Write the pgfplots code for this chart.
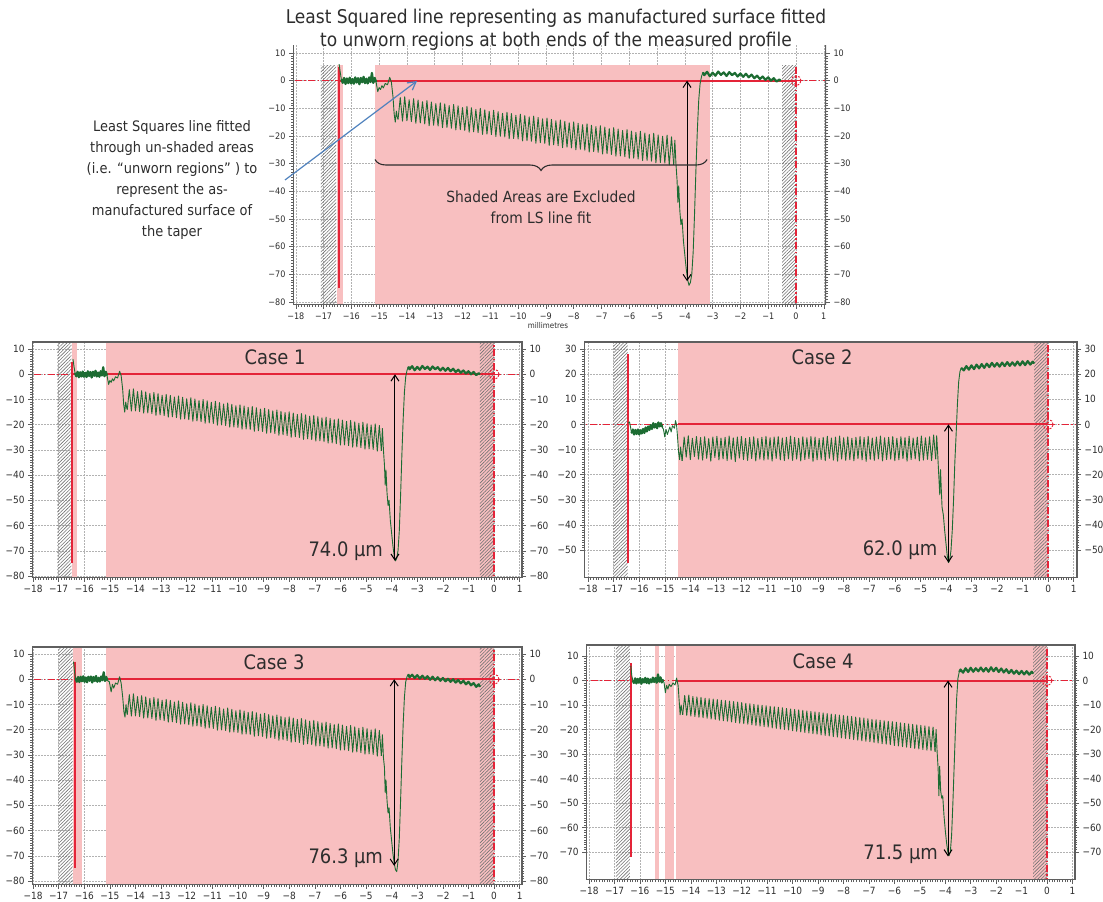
\documentclass[border=0pt]{standalone}
\usepackage{pgfplots}
\pgfplotsset{compat=1.18}
\usepackage{pgfplotstable}
\usepackage{fontspec}
\setmainfont{DejaVu Sans Condensed}
\usetikzlibrary{patterns,patterns.meta,decorations.pathreplacing,arrows.meta}

\definecolor{pinkc}{RGB}{248,191,192}
\definecolor{grn}{RGB}{28,108,50}
\definecolor{redc}{RGB}{228,36,56}
\definecolor{txt}{RGB}{45,45,45}
\definecolor{framec}{RGB}{95,95,95}
\definecolor{bluec}{RGB}{79,129,189}

\newcommand\myticklab{\pgfmathtruncatemacro\myTV{round(\tick)}\ifnum\myTV<0 −\pgfmathtruncatemacro\myTV{-\myTV}\fi\myTV}

\pgfplotsset{
  base/.style={scale only axis, anchor=south west,
    xtick={-18,-17,...,1}, minor x tick num=9, minor y tick num=9,
    xtick pos=left, ytick pos=both,
    tick align=outside, major tick length=4bp, minor tick length=2bp,
    tick style={draw=framec, line width=0.5bp},
    grid=major, grid style={draw=gray!60, line width=0.5bp, dash pattern=on 1.5bp off 1.5bp},
    axis line style={draw=framec, line width=1bp},
    xticklabel={\myticklab}, yticklabel={\myticklab},
    tick label style={text=txt}},
  rlab/.style={scale only axis, anchor=south west, xtick=\empty, ytick pos=right, yticklabel pos=right,
    tick align=outside, major tick length=4bp, ytick style={draw=none}, minor y tick num=0,
    axis line style={draw=none}, yticklabel={\myticklab}, tick label style={text=txt}},
  pinkfill/.style={fill=pinkc, draw=none},
  hatch/.style={draw=none, pattern={Lines[angle=45, distance=2.4bp, line width=0.6bp]}, pattern color=gray!90!black},
  redsolid/.style={color=redc, line width=2bp},
  reddd/.style={color=redc, line width=1.4bp, dash pattern=on 7bp off 2.5bp on 1.5bp off 2.5bp},
  redcirc/.style={only marks, mark=o, mark size=5bp, mark options={draw=redc, line width=1bp, dash pattern=on 2bp off 1.5bp, fill=none}},
  prof/.style={color=grn, line width=0.9bp, line join=round},
  profthick/.style={color=grn, line width=2.2bp, line join=round},
  meas/.style={color=black, line width=1bp, {Straight Barb[length=6bp,width=8bp]}-{Straight Barb[length=6bp,width=8bp]}},
  frameline/.style={color=framec, line width=2bp},
  dummy/.style={draw=none, forget plot},
}

\pgfplotstableread{
x a b d
-14.32 -14.0 -14.5 -14.0
-14.24 -6.1 -5.0 -6.1
-14.16 -14.6 -13.0 -14.2
-14.08 -5.8 -4.5 -5.9
-14.00 -14.5 -14.0 -14.5
-13.92 -6.9 -5.5 -6.5
-13.84 -14.8 -12.8 -14.7
-13.76 -6.5 -4.8 -6.7
-13.68 -15.4 -13.8 -15.0
-13.60 -7.0 -5.2 -6.9
-13.52 -15.3 -14.2 -15.2
-13.44 -7.6 -4.9 -7.2
-13.36 -15.6 -13.5 -15.4
-13.28 -7.2 -5.6 -7.4
-13.20 -16.3 -14.6 -15.7
-13.12 -7.7 -5.0 -7.6
-13.04 -16.1 -13.2 -15.9
-12.96 -8.3 -4.7 -7.8
-12.88 -16.4 -14.1 -16.2
-12.80 -8.0 -5.4 -8.0
-12.72 -17.0 -13.7 -16.4
-12.64 -8.4 -5.1 -8.2
-12.56 -16.9 -14.4 -16.6
-12.48 -9.0 -4.6 -8.4
-12.40 -17.2 -13.9 -16.9
-12.32 -8.6 -5.3 -8.6
-12.24 -17.8 -14.8 -17.1
-12.16 -9.1 -5.0 -8.8
-12.08 -17.7 -13.4 -17.4
-12.00 -9.7 -4.8 -9.0
-11.92 -18.0 -14.0 -17.6
-11.84 -9.3 -5.5 -9.3
-11.76 -18.6 -14.3 -17.8
-11.68 -9.8 -5.2 -9.5
-11.60 -18.5 -13.6 -18.1
-11.52 -10.4 -4.9 -9.7
-11.44 -18.8 -14.5 -18.3
-11.36 -10.0 -5.6 -9.9
-11.28 -19.4 -13.8 -18.6
-11.20 -10.5 -5.1 -10.1
-11.12 -19.3 -14.2 -18.8
-11.04 -11.1 -4.7 -10.3
-10.96 -19.5 -13.9 -19.0
-10.88 -10.7 -5.3 -10.5
-10.80 -20.2 -14.6 -19.3
-10.72 -11.2 -5.0 -10.7
-10.64 -20.1 -13.5 -19.5
-10.56 -11.8 -4.8 -10.9
-10.48 -20.3 -14.1 -19.8
-10.40 -11.4 -5.4 -11.1
-10.32 -21.0 -14.4 -20.0
-10.24 -11.9 -5.1 -11.4
-10.16 -20.9 -13.7 -20.2
-10.08 -12.5 -4.6 -11.6
-10.00 -21.1 -14.3 -20.5
-9.92 -12.1 -5.2 -11.8
-9.84 -21.8 -13.8 -20.7
-9.76 -12.6 -5.5 -12.0
-9.68 -21.7 -14.5 -21.0
-9.60 -13.1 -4.9 -12.2
-9.52 -21.9 -14.0 -21.2
-9.44 -12.8 -5.3 -12.4
-9.36 -22.6 -13.6 -21.4
-9.28 -13.3 -4.8 -12.6
-9.20 -22.4 -14.7 -21.7
-9.12 -13.8 -5.0 -12.8
-9.04 -22.7 -14.1 -21.9
-8.96 -13.5 -5.6 -13.0
-8.88 -23.4 -13.9 -22.2
-8.80 -14.0 -5.1 -13.2
-8.72 -23.2 -14.4 -22.4
-8.64 -14.5 -4.7 -13.5
-8.56 -23.5 -13.5 -22.6
-8.48 -14.2 -5.4 -13.7
-8.40 -24.2 -14.2 -22.9
-8.32 -14.7 -5.0 -13.9
-8.24 -24.0 -14.6 -23.1
-8.16 -15.2 -4.6 -14.1
-8.08 -24.3 -13.8 -23.4
-8.00 -14.9 -5.3 -14.3
-7.92 -25.0 -14.3 -23.6
-7.84 -15.4 -4.9 -14.5
-7.76 -24.8 -14.0 -23.8
-7.68 -15.9 -5.5 -14.7
-7.60 -25.1 -14.5 -24.1
-7.52 -15.6 -5.1 -14.9
-7.44 -25.8 -13.6 -24.3
-7.36 -16.1 -4.8 -15.1
-7.28 -25.6 -14.1 -24.6
-7.20 -16.6 -5.2 -15.3
-7.12 -25.9 -14.7 -24.8
-7.04 -16.3 -4.7 -15.6
-6.96 -26.5 -13.9 -25.0
-6.88 -16.8 -5.4 -15.8
-6.80 -26.4 -14.3 -25.3
-6.72 -17.3 -5.0 -16.0
-6.64 -26.7 -13.7 -25.5
-6.56 -17.0 -4.6 -16.2
-6.48 -27.3 -14.5 -25.8
-6.40 -17.5 -5.3 -16.4
-6.32 -27.2 -14.0 -26.0
-6.24 -18.0 -5.1 -16.6
-6.16 -27.5 -13.8 -26.2
-6.08 -17.7 -4.8 -16.8
-6.00 -28.1 -14.4 -26.5
-5.92 -18.2 -5.5 -17.0
-5.84 -28.0 -14.1 -26.7
-5.76 -18.7 -4.9 -17.3
-5.68 -28.3 -13.6 -27.0
-5.60 -18.3 -5.2 -17.5
-5.52 -28.9 -14.6 -27.2
-5.44 -18.9 -4.7 -17.7
-5.36 -28.8 -14.0 -27.4
-5.28 -19.4 -5.4 -17.9
-5.20 -29.1 -13.7 -27.7
-5.12 -19.0 -5.0 -18.1
-5.04 -29.7 -14.5 -27.9
-4.96 -19.6 -4.6 -18.3
-4.88 -29.6 -14.2 -28.2
-4.80 -20.1 -5.3 -18.5
-4.72 -29.8 -13.9 -28.4
-4.64 -19.7 -4.9 -18.8
-4.56 -30.5 -14.4 -28.6
-4.48 -20.3 -4.2 -19.0
-4.40 -30.4 -13.8 -29.0
}\saw

\pgfplotstableread{
x y
-16.44 6.0
-16.40 3.0
-16.36 0.5
-16.31 -0.8
-16.26 1.0
-16.21 -1.2
-16.16 0.8
-16.11 -0.9
-16.06 1.1
-16.01 -1.0
-15.96 0.6
-15.91 -1.1
-15.86 1.2
-15.81 -0.7
-15.76 0.9
-15.71 -1.3
-15.66 1.0
-15.61 -0.6
-15.56 1.4
-15.51 -0.9
-15.46 0.7
-15.41 -1.0
-15.36 1.2
-15.31 -0.5
-15.26 2.8
-15.21 -0.8
-15.16 1.0
-15.11 -0.5
-15.05 -4.0
-15.00 -2.5
-14.95 -3.2
-14.90 -1.8
-14.85 -2.6
-14.78 -1.0
-14.70 -1.5
-14.62 1.2
-14.56 -0.5
-14.50 -6.0
-14.46 -12.0
-14.42 -15.0
-14.38 -11.0
-14.35 -13.0
-14.32 -14.0
}\cAs

\pgfplotstableread{
x y
-4.40 -30.4
-4.36 -21.5
-4.32 -30.0
-4.28 -36.0
-4.25 -44.0
-4.22 -38.0
-4.18 -47.0
-4.14 -52.0
-4.10 -50.0
-4.05 -58.0
-4.00 -63.0
-3.95 -68.0
-3.90 -72.0
-3.85 -74.0
-3.80 -73.0
-3.75 -70.0
-3.70 -62.0
-3.65 -48.0
-3.60 -32.0
-3.55 -18.0
-3.50 -7.0
-3.45 -1.0
-3.40 1.5
-3.35 3.0
-3.30 2.0
-3.20 3.2
-3.10 1.6
-3.00 2.9
-2.90 1.8
-2.80 3.3
-2.70 2.1
-2.60 3.0
-2.50 1.7
-2.40 3.1
-2.30 2.0
-2.20 2.8
-2.10 1.5
-2.00 2.6
-1.90 1.4
-1.80 2.5
-1.70 1.2
-1.60 2.2
-1.50 0.9
-1.40 1.8
-1.30 0.6
-1.20 1.5
-1.10 0.3
-1.00 1.2
-0.90 0.0
-0.80 0.9
-0.70 -0.3
-0.60 0.4
-0.55 0.0
}\cAe

\pgfplotstableread{
x y
-16.42 0.5
-16.38 1.0
-16.34 -1.0
-16.30 -3.5
-16.25 -2.0
-16.20 -4.0
-16.15 -2.2
-16.10 -3.8
-16.05 -2.0
-16.00 -4.0
-15.95 -2.3
-15.90 -3.6
-15.85 -1.8
-15.80 -3.4
-15.75 -1.2
-15.70 -2.8
-15.65 -0.8
-15.60 -2.2
-15.55 -0.3
-15.50 -1.8
-15.45 0.5
-15.40 -1.2
-15.35 0.2
-15.30 -1.5
-15.25 0.8
-15.20 -0.8
-15.15 0.5
-15.10 -1.0
-15.05 -2.0
-15.00 -5.0
-14.95 -2.0
-14.90 -4.0
-14.85 -2.5
-14.80 -1.0
-14.75 -3.0
-14.70 -0.5
-14.62 -1.5
-14.58 1.5
-14.54 0.0
-14.50 -5.0
-14.46 -11.0
-14.42 -14.0
-14.38 -9.0
-14.35 -12.0
-14.32 -14.5
}\cBs

\pgfplotstableread{
x y
-4.40 -13.8
-4.36 -4.5
-4.32 -12.0
-4.28 -20.0
-4.24 -28.0
-4.21 -18.0
-4.18 -26.0
-4.15 -33.0
-4.10 -36.0
-4.05 -42.0
-4.00 -47.0
-3.95 -52.0
-3.90 -55.0
-3.85 -54.0
-3.80 -50.0
-3.75 -42.0
-3.70 -30.0
-3.65 -15.0
-3.60 -4.0
-3.55 8.0
-3.50 17.0
-3.45 21.0
-3.40 22.5
-3.30 21.5
-3.20 23.2
-3.10 21.8
-3.00 23.5
-2.90 22.0
-2.80 23.8
-2.70 22.3
-2.60 24.0
-2.50 22.5
-2.40 24.2
-2.30 22.8
-2.20 24.5
-2.10 23.0
-2.00 24.4
-1.90 23.0
-1.80 24.6
-1.70 23.2
-1.60 24.8
-1.50 23.3
-1.40 24.7
-1.30 23.4
-1.20 25.0
-1.10 23.5
-1.00 25.1
-0.90 23.6
-0.80 25.2
-0.70 23.8
-0.60 25.0
-0.55 24.2
}\cBe

\pgfplotstableread{
x y
-16.42 7.0
-16.38 3.0
-16.34 0.5
-16.29 -1.0
-16.24 0.9
-16.19 -1.1
-16.14 1.0
-16.09 -0.8
-16.04 1.2
-15.99 -1.0
-15.94 0.7
-15.89 -1.2
-15.84 1.0
-15.79 -0.6
-15.74 1.1
-15.69 -1.3
-15.64 0.9
-15.59 -0.7
-15.54 1.3
-15.49 -1.0
-15.44 0.6
-15.39 -0.9
-15.34 1.1
-15.29 -0.4
-15.24 2.8
-15.19 -0.7
-15.14 0.9
-15.10 -0.5
-15.02 -1.0
-14.95 -5.0
-14.90 -2.0
-14.85 -3.5
-14.78 -1.5
-14.70 -2.0
-14.62 1.0
-14.56 -1.5
-14.50 -7.0
-14.45 -13.0
-14.41 -15.0
-14.37 -10.0
-14.34 -13.0
-14.32 -14.0
}\cCs

\pgfplotstableread{
x y
-4.40 -30.4
-4.36 -22.0
-4.32 -31.0
-4.28 -35.0
-4.25 -45.0
-4.22 -40.0
-4.18 -48.0
-4.14 -53.0
-4.10 -51.0
-4.05 -59.0
-4.00 -64.0
-3.95 -69.0
-3.90 -73.0
-3.85 -75.5
-3.80 -76.3
-3.75 -72.0
-3.70 -63.0
-3.65 -48.0
-3.60 -32.0
-3.55 -18.0
-3.50 -7.0
-3.45 -1.0
-3.40 1.0
-3.35 2.0
-3.30 0.8
-3.20 1.8
-3.10 0.5
-3.00 1.6
-2.90 0.3
-2.80 1.4
-2.70 0.2
-2.60 1.2
-2.50 -0.2
-2.40 1.0
-2.30 -0.4
-2.20 0.8
-2.10 -0.6
-2.00 0.5
-1.90 -0.8
-1.80 0.2
-1.70 -1.0
-1.60 0.0
-1.50 -1.3
-1.40 -0.3
-1.30 -1.6
-1.20 -0.6
-1.10 -2.0
-1.00 -1.0
-0.90 -2.4
-0.80 -1.5
-0.70 -3.0
-0.60 -2.0
-0.55 -3.0
}\cCe

\pgfplotstableread{
x y
-16.36 6.0
-16.32 2.0
-16.28 0.0
-16.24 -1.0
-16.19 0.9
-16.14 -1.2
-16.09 0.7
-16.04 -0.9
-15.99 1.0
-15.94 -1.3
-15.89 0.6
-15.84 -0.8
-15.79 1.1
-15.74 -1.0
-15.69 0.8
-15.64 -1.2
-15.59 0.5
-15.54 -0.7
-15.49 1.2
-15.44 -0.6
-15.39 1.0
-15.34 -0.9
-15.29 2.5
-15.24 -0.5
-15.19 1.3
-15.14 -0.8
-15.10 0.5
-15.05 -1.0
-15.00 -5.0
-14.95 -2.0
-14.90 -3.5
-14.85 -1.5
-14.78 -2.5
-14.70 -1.0
-14.62 -1.8
-14.56 1.0
-14.50 -2.0
-14.46 -8.0
-14.42 -14.0
-14.38 -10.0
-14.35 -12.0
-14.32 -14.0
}\cDs

\pgfplotstableread{
x y
-4.40 -29.0
-4.36 -20.0
-4.32 -29.0
-4.28 -36.0
-4.25 -47.0
-4.22 -35.0
-4.18 -45.0
-4.14 -48.0
-4.10 -47.0
-4.05 -55.0
-4.00 -61.0
-3.95 -66.0
-3.90 -70.0
-3.85 -71.5
-3.80 -70.0
-3.75 -63.0
-3.70 -50.0
-3.65 -35.0
-3.60 -20.0
-3.55 -7.0
-3.50 1.0
-3.45 3.5
-3.40 4.5
-3.30 3.2
-3.20 5.0
-3.10 3.5
-3.00 5.2
-2.90 3.6
-2.80 5.0
-2.70 3.8
-2.60 5.3
-2.50 3.7
-2.40 5.1
-2.30 3.6
-2.20 5.4
-2.10 3.8
-2.00 5.2
-1.90 3.5
-1.80 4.9
-1.70 3.3
-1.60 4.6
-1.50 3.0
-1.40 4.3
-1.30 2.8
-1.20 4.0
-1.10 2.6
-1.00 3.9
-0.90 2.5
-0.80 3.8
-0.70 2.4
-0.60 3.6
-0.55 2.8
}\cDe

\begin{document}
\begin{tikzpicture}[x=1bp,y=1bp]
\useasboundingbox (0bp,0bp) rectangle (1103bp,902bp);

% ---------------- TOP ----------------
\begin{axis}[base, at={(293bp,597bp)}, width=533bp, height=260bp,
  xmin=-18.1, xmax=1.08, ymin=-81.1, ymax=12.9, ytick={-80,-70,...,10},
  axis line style={draw=none},
  tick label style={font=\fontsize{9}{10}\selectfont}]
\addplot[pinkfill] coordinates {(-16.5,-100)(-16.5,5.5)(-16.3,5.5)(-16.3,-100)} -- cycle;
\addplot[pinkfill] coordinates {(-15.15,-100)(-15.15,5.5)(-3.1,5.5)(-3.1,-100)} -- cycle;
\addplot[hatch] coordinates {(-17.1,-100)(-17.1,5.5)(-16.55,5.5)(-16.55,-100)} -- cycle;
\addplot[hatch] coordinates {(-0.5,-100)(-0.5,5.5)(0,5.5)(0,-100)} -- cycle;
\addplot[reddd] coordinates {(-19,0)(-16.45,0)};
\addplot[redsolid] coordinates {(-16.45,0)(0,0)};
\addplot[reddd] coordinates {(0,0)(2,0)};
\addplot[reddd] coordinates {(0,-100)(0,5.5)};
\addplot[redsolid] coordinates {(-16.45,5)(-16.45,-75)};
\addplot[redcirc] coordinates {(0,0)};
\addplot[prof] table {\cAs};
\addplot[profthick, restrict x to domain=-16.37:-15.1] table {\cAs};
\addplot[prof] table[x=x,y=a] {\saw};
\addplot[prof] table {\cAe};
\addplot[profthick, restrict x to domain=-3.35:-0.5] table {\cAe};
\addplot[meas] coordinates {(-3.92,0)(-3.92,-72.5)};
\addplot[frameline] coordinates {(-18.1,12.9)(-18.1,-81.1)(1.08,-81.1)(1.08,12.9)};
\draw[decorate, decoration={brace, mirror, amplitude=11bp}, line width=1.1bp, txt] (axis cs:-15.15,-28.5) -- (axis cs:-3.2,-28.5);
\end{axis}
\begin{axis}[rlab, at={(293bp,597bp)}, width=533bp, height=260bp,
  xmin=-18.1, xmax=1.08, ymin=-81.1, ymax=12.9, ytick={-80,-70,...,10},
  tick label style={font=\fontsize{9}{10}\selectfont}]
\addplot[dummy] coordinates {(-18,0)(1,0)};
\end{axis}

% ---------------- CASE 1 ----------------
\begin{axis}[base, at={(32bp,324bp)}, width=490bp, height=236bp,
  xmin=-18.04, xmax=1.09, ymin=-80.8, ymax=12.8, ytick={-80,-70,...,10},
  tick label style={font=\fontsize{10}{12}\selectfont}]
\addplot[pinkfill] coordinates {(-16.48,-100)(-16.48,100)(-16.3,100)(-16.3,-100)} -- cycle;
\addplot[pinkfill] coordinates {(-15.15,-100)(-15.15,100)(0,100)(0,-100)} -- cycle;
\addplot[hatch] coordinates {(-17.05,-100)(-17.05,100)(-16.5,100)(-16.5,-100)} -- cycle;
\addplot[hatch] coordinates {(-0.55,-100)(-0.55,100)(0,100)(0,-100)} -- cycle;
\addplot[reddd] coordinates {(-19,0)(-16.45,0)};
\addplot[redsolid] coordinates {(-16.45,0)(0,0)};
\addplot[reddd] coordinates {(0,0)(2,0)};
\addplot[reddd] coordinates {(0,-100)(0,100)};
\addplot[redsolid] coordinates {(-16.47,5)(-16.47,-75)};
\addplot[redcirc] coordinates {(0,0)};
\addplot[prof] table {\cAs};
\addplot[profthick, restrict x to domain=-16.37:-15.1] table {\cAs};
\addplot[prof] table[x=x,y=a] {\saw};
\addplot[prof] table {\cAe};
\addplot[profthick, restrict x to domain=-3.35:-0.5] table {\cAe};
\addplot[meas] coordinates {(-3.87,0)(-3.87,-74)};
\addplot[frameline] coordinates {(-18.04,12.8)(-18.04,-80.8)(1.09,-80.8)(1.09,12.8)} -- cycle;
\node[anchor=east, font=\fontsize{20}{22}\selectfont, text=txt] at (axis cs:-4.2,-70) {74.0 µm};
\end{axis}
\begin{axis}[rlab, at={(32bp,324bp)}, width=490bp, height=236bp,
  xmin=-18.04, xmax=1.09, ymin=-80.8, ymax=12.8, ytick={-80,-70,...,10},
  tick label style={font=\fontsize{10}{12}\selectfont}]
\addplot[dummy] coordinates {(-18,0)(1,0)};
\end{axis}

% ---------------- CASE 2 ----------------
\begin{axis}[base, at={(584bp,324bp)}, width=493bp, height=236bp,
  xmin=-18.16, xmax=1.13, ymin=-61.1, ymax=32.8, ytick={-50,-40,...,30},
  tick label style={font=\fontsize{10}{12}\selectfont}]
\addplot[pinkfill] coordinates {(-14.5,-100)(-14.5,100)(0,100)(0,-100)} -- cycle;
\addplot[hatch] coordinates {(-17.0,-100)(-17.0,100)(-16.45,100)(-16.45,-100)} -- cycle;
\addplot[hatch] coordinates {(-0.55,-100)(-0.55,100)(0,100)(0,-100)} -- cycle;
\addplot[reddd] coordinates {(-19,0)(-14.5,0)};
\addplot[redsolid] coordinates {(-14.5,0)(0,0)};
\addplot[reddd] coordinates {(0,0)(2,0)};
\addplot[reddd] coordinates {(0,-100)(0,100)};
\addplot[redsolid] coordinates {(-16.42,28)(-16.42,-55)};
\addplot[redcirc] coordinates {(0,0)};
\addplot[prof] table {\cBs};
\addplot[profthick, restrict x to domain=-16.32:-15.1] table {\cBs};
\addplot[prof] table[x=x,y=b] {\saw};
\addplot[prof] table {\cBe};
\addplot[profthick, restrict x to domain=-3.42:-0.5] table {\cBe};
\addplot[meas] coordinates {(-3.9,0)(-3.9,-55)};
\addplot[frameline] coordinates {(-18.16,32.8)(-18.16,-61.1)(1.13,-61.1)(1.13,32.8)} -- cycle;
\node[anchor=east, font=\fontsize{20}{22}\selectfont, text=txt] at (axis cs:-4.2,-50) {62.0 µm};
\end{axis}
\begin{axis}[rlab, at={(584bp,324bp)}, width=493bp, height=236bp,
  xmin=-18.16, xmax=1.13, ymin=-61.1, ymax=32.8, ytick={-50,-40,...,30},
  tick label style={font=\fontsize{10}{12}\selectfont}]
\addplot[dummy] coordinates {(-18,0)(1,0)};
\end{axis}

% ---------------- CASE 3 ----------------
\begin{axis}[base, at={(32bp,17bp)}, width=490bp, height=238bp,
  xmin=-18.04, xmax=1.09, ymin=-81.6, ymax=12.8, ytick={-80,-70,...,10},
  tick label style={font=\fontsize{10}{12}\selectfont}]
\addplot[pinkfill] coordinates {(-16.45,-100)(-16.45,100)(-16.1,100)(-16.1,-100)} -- cycle;
\addplot[pinkfill] coordinates {(-15.15,-100)(-15.15,100)(0,100)(0,-100)} -- cycle;
\addplot[hatch] coordinates {(-17.0,-100)(-17.0,100)(-16.45,100)(-16.45,-100)} -- cycle;
\addplot[hatch] coordinates {(-0.55,-100)(-0.55,100)(0,100)(0,-100)} -- cycle;
\addplot[reddd] coordinates {(-19,0)(-16.4,0)};
\addplot[redsolid] coordinates {(-16.4,0)(0,0)};
\addplot[reddd] coordinates {(0,0)(2,0)};
\addplot[reddd] coordinates {(0,-100)(0,100)};
\addplot[redsolid] coordinates {(-16.38,7)(-16.38,-75)};
\addplot[redcirc] coordinates {(0,0)};
\addplot[prof] table {\cCs};
\addplot[profthick, restrict x to domain=-16.35:-15.1] table {\cCs};
\addplot[prof] table[x=x,y=a] {\saw};
\addplot[prof] table {\cCe};
\addplot[profthick, restrict x to domain=-3.35:-0.5] table {\cCe};
\addplot[meas] coordinates {(-3.9,0)(-3.9,-74)};
\addplot[frameline] coordinates {(-18.04,12.8)(-18.04,-81.6)(1.09,-81.6)(1.09,12.8)} -- cycle;
\node[anchor=east, font=\fontsize{20}{22}\selectfont, text=txt] at (axis cs:-4.2,-71) {76.3 µm};
\end{axis}
\begin{axis}[rlab, at={(32bp,17bp)}, width=490bp, height=238bp,
  xmin=-18.04, xmax=1.09, ymin=-81.6, ymax=12.8, ytick={-80,-70,...,10},
  tick label style={font=\fontsize{10}{12}\selectfont}]
\addplot[dummy] coordinates {(-18,0)(1,0)};
\end{axis}

% ---------------- CASE 4 ----------------
\begin{axis}[base, at={(586bp,22bp)}, width=489bp, height=235bp,
  xmin=-18.12, xmax=1.1, ymin=-81.4, ymax=14.5, ytick={-70,-60,...,10},
  tick label style={font=\fontsize{10}{12}\selectfont}]
\addplot[pinkfill] coordinates {(-15.4,-100)(-15.4,100)(-15.25,100)(-15.25,-100)} -- cycle;
\addplot[pinkfill] coordinates {(-15.0,-100)(-15.0,100)(-14.67,100)(-14.67,-100)} -- cycle;
\addplot[pinkfill] coordinates {(-14.58,-100)(-14.58,100)(0,100)(0,-100)} -- cycle;
\addplot[hatch] coordinates {(-16.95,-100)(-16.95,100)(-16.4,100)(-16.4,-100)} -- cycle;
\addplot[hatch] coordinates {(-0.55,-100)(-0.55,100)(0,100)(0,-100)} -- cycle;
\addplot[reddd] coordinates {(-19,0)(-14.58,0)};
\addplot[redsolid] coordinates {(-14.58,0)(0,0)};
\addplot[reddd] coordinates {(0,0)(2,0)};
\addplot[reddd] coordinates {(0,-100)(0,100)};
\addplot[redsolid] coordinates {(-16.37,7)(-16.37,-72)};
\addplot[redcirc] coordinates {(0,0)};
\addplot[prof] table {\cDs};
\addplot[profthick, restrict x to domain=-16.29:-15.1] table {\cDs};
\addplot[prof] table[x=x,y=d] {\saw};
\addplot[prof] table {\cDe};
\addplot[profthick, restrict x to domain=-3.45:-0.5] table {\cDe};
\addplot[meas] coordinates {(-3.89,0)(-3.89,-71.8)};
\addplot[frameline] coordinates {(-18.12,14.5)(-18.12,-81.4)(1.1,-81.4)(1.1,14.5)} -- cycle;
\node[anchor=east, font=\fontsize{20}{22}\selectfont, text=txt] at (axis cs:-4.15,-71) {71.5 µm};
\end{axis}
\begin{axis}[rlab, at={(586bp,22bp)}, width=489bp, height=235bp,
  xmin=-18.12, xmax=1.1, ymin=-81.4, ymax=14.5, ytick={-70,-60,...,10},
  tick label style={font=\fontsize{10}{12}\selectfont}]
\addplot[dummy] coordinates {(-18,0)(1,0)};
\end{axis}

% ---------------- TEXT ----------------
\node[align=center, font=\fontsize{19}{23}\selectfont, text=txt] at (556bp,872bp)
  {Least Squared line representing as manufactured surface fitted\\to unworn regions at both ends of the measured profile};
\node[align=center, font=\fontsize{14.5}{21.2}\selectfont, text=txt] at (172bp,722bp)
  {Least Squares line fitted\\through un-shaded areas\\(i.e. “unworn regions” ) to\\represent the as-\\manufactured surface of\\the taper};
\node[align=center, font=\fontsize{15.4}{21}\selectfont, text=txt] at (541bp,695bp)
  {Shaded Areas are Excluded\\from LS line fit};
\node[font=\fontsize{8}{9}\selectfont, text=txt] at (548bp,576bp) {millimetres};
\draw[bluec, line width=1.2bp, -{Straight Barb[length=8bp,width=9bp]}] (285bp,722bp) -- (417bp,821bp);
\node[font=\fontsize{20}{22}\selectfont, text=txt] at (275bp,545bp) {Case 1};
\node[font=\fontsize{20}{22}\selectfont, text=txt] at (822bp,545bp) {Case 2};
\node[font=\fontsize{20}{22}\selectfont, text=txt] at (274bp,240bp) {Case 3};
\node[font=\fontsize{20}{22}\selectfont, text=txt] at (823bp,241bp) {Case 4};
\end{tikzpicture}
\end{document}
